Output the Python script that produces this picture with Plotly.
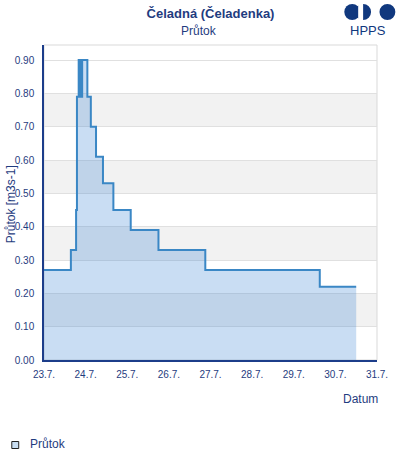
import plotly.graph_objects as go

# ---- data ----
times = [
    "2024-07-23 00:00", "2024-07-23 15:30", "2024-07-23 18:30", "2024-07-23 19:00",
    "2024-07-23 20:00", "2024-07-23 20:40", "2024-07-23 21:00", "2024-07-23 21:40",
    "2024-07-23 22:00", "2024-07-24 01:00", "2024-07-24 03:00", "2024-07-24 06:00",
    "2024-07-24 10:00", "2024-07-24 16:00", "2024-07-25 02:00", "2024-07-25 18:00",
    "2024-07-26 21:00", "2024-07-29 15:00", "2024-07-30 12:00",
]
flow = [
    0.27, 0.33, 0.45, 0.79,
    0.90, 0.79, 0.90, 0.79,
    0.90, 0.79, 0.70, 0.61,
    0.53, 0.45, 0.39, 0.33,
    0.27, 0.22, 0.22,
]
band_ranges = [(0.1, 0.2), (0.3, 0.4), (0.5, 0.6), (0.7, 0.8)]
x_range = ["2024-07-23 00:00", "2024-07-31 00:00"]
y_range = [0, 0.945]

title_text = "Čeladná (Čeladenka)"
subtitle_text = "Průtok"
series_name = "Průtok"
y_title = "Průtok [m3s-1]"
x_title = "Datum"
logo_text = "HPPS"

# ---- style ----
FONT = "Liberation Sans, Arial, sans-serif"
TXT = "#1f3c80"
NAVY = "#10387e"
LINE = "#3a87c5"
FILL = "rgba(54,130,210,0.27)"

W, H = 400, 460
L, R, T, B = 44, 20, 45, 100
PW, PH = W - L - R, H - T - B


def px(xp):
    return (xp - L) / PW


def py(yp):
    return (H - B - yp) / PH


fig = go.Figure()
fig.add_trace(go.Scatter(
    x=times, y=flow, mode="lines", line=dict(shape="hv", color=LINE, width=2),
    fill="tozeroy", fillcolor=FILL, showlegend=False, hoverinfo="x+y",
    name=series_name,
))

shapes = []
for y0, y1 in band_ranges:
    shapes.append(dict(type="rect", xref="paper", x0=0, x1=1, yref="y", y0=y0, y1=y1,
                       fillcolor="#f2f2f2", line=dict(width=0), layer="below"))
shapes.append(dict(type="rect", xref="paper", x0=0, x1=1, yref="paper", y0=0, y1=1,
                   line=dict(color="#d9d9d9", width=1), layer="below"))
# logo
r = 8
cy = 12
shapes += [
    dict(type="circle", xref="paper", yref="paper", x0=px(355 - r), x1=px(355 + r),
         y0=py(cy + r), y1=py(cy - r), fillcolor=NAVY, line=dict(width=0)),
    dict(type="circle", xref="paper", yref="paper", x0=px(366 - r), x1=px(366 + r),
         y0=py(cy + r), y1=py(cy - r), fillcolor=NAVY, line=dict(width=0)),
    dict(type="rect", xref="paper", yref="paper", x0=px(361), x1=px(366),
         y0=py(cy + r + 1), y1=py(cy - r - 1), fillcolor="white", line=dict(width=0)),
    dict(type="circle", xref="paper", yref="paper", x0=px(390.5 - r), x1=px(390.5 + r),
         y0=py(cy + r), y1=py(cy - r), fillcolor=NAVY, line=dict(width=0)),
]
# legend symbol
shapes.append(dict(type="rect", xref="paper", yref="paper", x0=px(11.5), x1=px(18.5),
                   y0=py(448.5), y1=py(441.5), fillcolor="#c8ddf1",
                   line=dict(color="#222222", width=1)))

annotations = [
    dict(text=subtitle_text, xref="paper", yref="paper", x=px(200), y=py(31),
         showarrow=False, font=dict(family=FONT, size=12, color=TXT),
         xanchor="center", yanchor="middle"),
    dict(text=logo_text, xref="paper", yref="paper", x=px(371), y=py(31),
         showarrow=False, font=dict(family=FONT, size=13, color=NAVY),
         xanchor="center", yanchor="middle"),
    dict(text=y_title, xref="paper", yref="paper", x=px(11), y=py(204),
         showarrow=False, textangle=-90, font=dict(family=FONT, size=12, color=TXT),
         xanchor="center", yanchor="middle"),
    dict(text=x_title, xref="paper", yref="paper", x=px(383), y=py(399),
         showarrow=False, font=dict(family=FONT, size=12, color=TXT),
         xanchor="right", yanchor="middle"),
    dict(text=series_name, xref="paper", yref="paper", x=px(28), y=py(444),
         showarrow=False, font=dict(family=FONT, size=12, color=TXT),
         xanchor="left", yanchor="middle"),
]

fig.update_layout(
    width=W, height=H, margin=dict(l=L, r=R, t=T, b=B, pad=0),
    paper_bgcolor="white", plot_bgcolor="white", showlegend=False,
    title=dict(text="<b>" + title_text + "</b>", x=0.5, xref="paper", xanchor="center",
               y=1 - 13 / H, yref="container", yanchor="middle",
               font=dict(family=FONT, size=13, color=TXT)),
    shapes=shapes, annotations=annotations,
    xaxis=dict(type="date", range=x_range, dtick=86400000, tick0="2024-07-23",
               tickformat="%-d.%-m.", showgrid=False, showline=True, linecolor="#1c3d8a",
               linewidth=1.5, ticks="", zeroline=False, ticklabelstandoff=4,
               tickfont=dict(family=FONT, size=10, color=TXT)),
    yaxis=dict(range=y_range, dtick=0.1, tick0=0, tickformat=".2f", showgrid=True,
               gridcolor="#e0e0e0", gridwidth=1, showline=True, linecolor="#1c3d8a",
               linewidth=1.5, ticks="", zeroline=False, ticklabelstandoff=6,
               tickfont=dict(family=FONT, size=10, color=TXT)),
)

fig.write_html("out.html")
